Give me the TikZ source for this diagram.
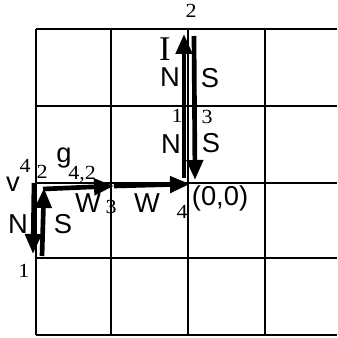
\documentclass[tikz,border=0pt]{standalone}
\usepackage{fontspec}
\setmainfont{Liberation Serif}
\setsansfont{Liberation Sans}
\usetikzlibrary{arrows.meta}
\begin{document}
\begin{tikzpicture}[x=0.75pt,y=-0.75pt,
  gridline/.style={line width=1.1pt},
  bigarrow/.style={line width=3.5pt,-{Triangle[length=15pt,width=12pt]}},
  sanslbl/.style={font=\sffamily\fontsize{20.5}{23}\selectfont,inner sep=0pt,anchor=base},
  seriflbl/.style={font=\fontsize{15}{17}\selectfont,inner sep=0pt,anchor=base,xscale=1.1},
  biglbl/.style={font=\fontsize{26}{30}\selectfont,inner sep=0pt,anchor=base}]
\useasboundingbox (0,0) rectangle (337,338);
% grid
\foreach \gx in {36,111,188,265} \draw[gridline] (\gx,29) -- (\gx,335);
\foreach \gy in {29,106,183,258,335} \draw[gridline] (36,\gy) -- (337,\gy);
% coordinates
\coordinate (a0) at (184,178);
\coordinate (a1) at (184,34);
\coordinate (b0) at (194,36);
\coordinate (b1) at (195,180);
\coordinate (c0) at (43,189);
\coordinate (c1) at (114,186);
\coordinate (c2) at (190,184);
\coordinate (d0) at (34,183);
\coordinate (d1) at (33,254);
\coordinate (e0) at (42,256);
\coordinate (e1) at (44,188);
% arrows
\draw[bigarrow] (a0) -- (a1);
\draw[bigarrow] (b0) -- (b1);
\draw[bigarrow] (c0) -- (c1);
\draw[bigarrow] (c1) -- (c2);
\draw[bigarrow] (d0) -- (d1);
\draw[bigarrow] (e0) -- (e1);
% labels
\node[seriflbl] (t2) at (191,18) {2};
\node[biglbl] (tI) at (165,61) {I};
\node[sanslbl] (tN1) at (170,87) {N};
\node[sanslbl] (tS1) at (210,88) {S};
\node[seriflbl] (t1a) at (177,123) {1};
\node[seriflbl] (t3a) at (207,124) {3};
\node[sanslbl] (tN2) at (171,153) {N};
\node[sanslbl] (tS2) at (211,152) {S};
\node[sanslbl] (tg) at (64,162) {g};
\node[seriflbl] (t42) at (82,179) {4,2};
\node[sanslbl] (tv) at (13,191) {v};
\node[seriflbl] (t4a) at (25,172) {4};
\node[seriflbl] (t2b) at (42,178) {2};
\node[sanslbl] (tW1) at (88,212) {W};
\node[seriflbl] (t3b) at (111,213) {3};
\node[sanslbl] (tW2) at (147,212) {W};
\node[seriflbl] (t4b) at (182,218) {4};
\node[sanslbl] (t00) at (220,205) {(0,0)};
\node[sanslbl] (tN3) at (18,233) {N};
\node[sanslbl] (tS3) at (63,233) {S};
\node[seriflbl] (t1b) at (24,277) {1};
\end{tikzpicture}
\end{document}
